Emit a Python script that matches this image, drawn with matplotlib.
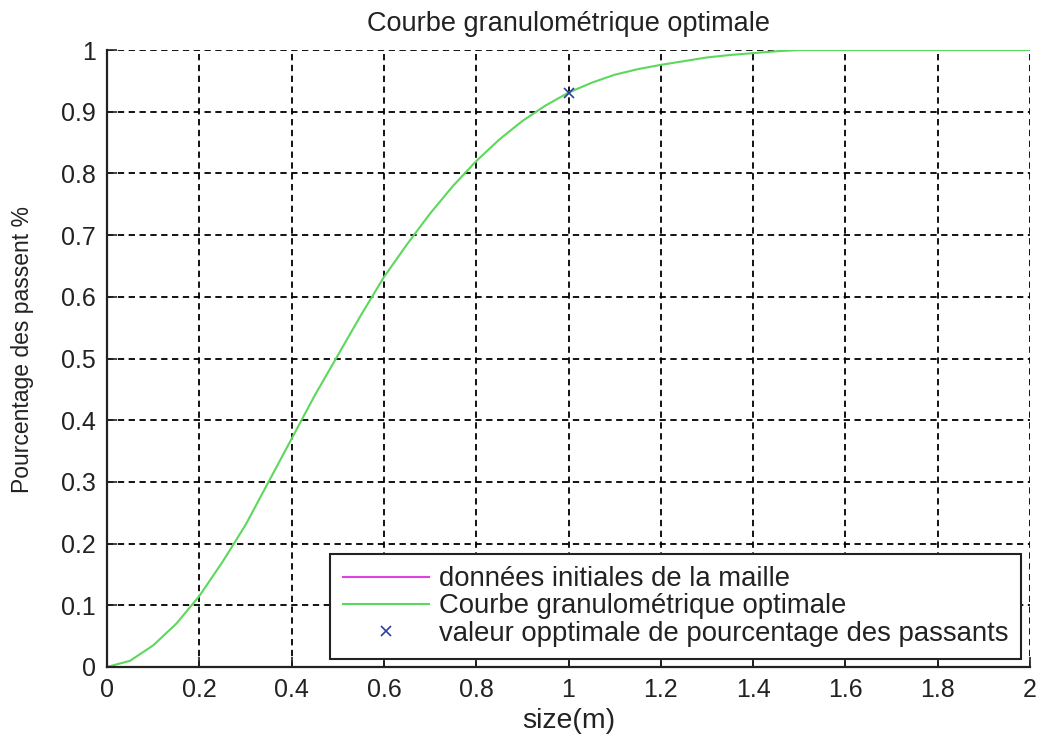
import matplotlib
matplotlib.use("Agg")
import matplotlib.pyplot as plt
from matplotlib.ticker import FuncFormatter

plt.rcParams["font.family"] = ["Liberation Sans", "DejaVu Sans"]

# values
size_m = [0.0, 0.05, 0.1, 0.15, 0.2, 0.25, 0.3, 0.35, 0.4, 0.45, 0.5, 0.55,
          0.6, 0.65, 0.7, 0.75, 0.8, 0.85, 0.9, 0.95, 1.0, 1.05, 1.1, 1.15,
          1.2, 1.25, 1.3, 1.35, 1.4, 1.45, 1.5, 2.0]
passant = [0.0, 0.01, 0.035, 0.07, 0.115, 0.17, 0.23, 0.30, 0.37, 0.44,
           0.505, 0.57, 0.632, 0.685, 0.735, 0.78, 0.82, 0.855, 0.885, 0.91,
           0.931, 0.947, 0.96, 0.969, 0.976, 0.982, 0.988, 0.992, 0.995,
           0.998, 1.0, 1.0]
maille_x = []
maille_y = []
opt_x = [1.0]
opt_y = [0.93]
x_ticks = [0, 0.2, 0.4, 0.6, 0.8, 1.0, 1.2, 1.4, 1.6, 1.8, 2.0]
y_ticks = [0, 0.1, 0.2, 0.3, 0.4, 0.5, 0.6, 0.7, 0.8, 0.9, 1.0]

fig = plt.figure(figsize=(10.43, 7.36), dpi=100)
ax = fig.add_axes([0.1026, 0.0938, 0.885, 0.8382])

ax.plot(maille_x, maille_y, color="#e040e0", lw=1.5, label="données initiales de la maille")
ax.plot(size_m, passant, color="#5cd85c", lw=1.5, label="Courbe granulométrique optimale")
ax.plot(opt_x, opt_y, ls="none", marker="x", ms=7, mew=1.2, color="#2a3fa0",
        label="valeur opptimale de pourcentage des passants")

ax.set_xlim(0, 2)
ax.set_ylim(0, 1)
ax.set_xticks(x_ticks)
ax.set_yticks(y_ticks)
fmt = FuncFormatter(lambda v, _: f"{v:g}")
ax.xaxis.set_major_formatter(fmt)
ax.yaxis.set_major_formatter(fmt)
ax.tick_params(direction="in", length=7, width=1.2, labelsize=18, colors="#222222")
ax.tick_params(axis="x", pad=8)
ax.tick_params(axis="y", pad=8)

ax.grid(True, color="black", lw=1.3, ls=(0, (3.5, 2.5)))
ax.set_axisbelow(True)
ax.spines["top"].set_visible(False)
ax.spines["right"].set_visible(False)
for side in ("left", "bottom"):
    ax.spines[side].set_linewidth(1.6)
    ax.spines[side].set_color("#222222")

ax.set_title("Courbe granulométrique optimale", fontsize=19.5, pad=14, color="#222222")
ax.set_xlabel("size(m)", fontsize=20.5, color="#222222")
ax.xaxis.set_label_coords(0.5, -0.066)
ax.set_ylabel("Pourcentage des passent %", fontsize=16.5, color="#222222")
ax.yaxis.set_label_coords(-0.079, 0.515)

leg = ax.legend(loc="lower right", bbox_to_anchor=(0.99, 0.013), fontsize=19.8,
                fancybox=False, framealpha=1, edgecolor="#222222",
                handlelength=3.15, handletextpad=0.35, borderpad=0.45,
                labelspacing=0.04, borderaxespad=0)
leg.get_frame().set_linewidth(1.5)
for text in leg.get_texts():
    text.set_color("#222222")

fig.savefig("out.png", dpi=100)
